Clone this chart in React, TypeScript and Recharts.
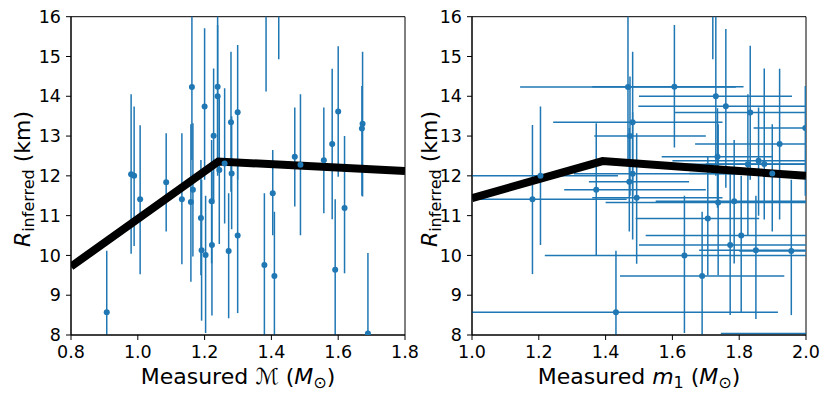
import React from 'react';
import { ComposedChart, Scatter, Line, XAxis, YAxis, ErrorBar, ReferenceArea } from 'recharts';

// ---- Left panel: chirp mass vs inferred radius ----
const chirpMass = [0.907, 0.98, 0.989, 1.007, 1.085, 1.132, 1.159, 1.162, 1.165, 1.189, 1.191, 1.203, 1.2, 1.221, 1.222, 1.227, 1.239, 1.239, 1.244, 1.26, 1.272, 1.279, 1.281, 1.299, 1.299, 1.379, 1.384, 1.404, 1.409, 1.422, 1.47, 1.487, 1.557, 1.582, 1.591, 1.6, 1.619, 1.671, 1.673, 1.689];
const chirpR = [8.57, 12.04, 12.0, 11.41, 11.84, 11.41, 11.34, 14.23, 11.65, 10.94, 10.13, 10.01, 13.74, 11.36, 10.26, 13.01, 14.24, 14.0, 12.15, 12.31, 10.11, 13.35, 12.06, 13.6, 10.5, 9.76, 17.0, 11.56, 9.48, 17.0, 12.48, 12.28, 12.39, 12.8, 9.64, 13.62, 11.19, 13.19, 13.31, 8.04];
const chirpRLow = [6.9, 10.04, 10.24, 9.53, 10.6, 9.78, 9.34, 12.4, 9.97, 9.5, 8.36, 8.05, 11.9, 9.8, 8.49, 11.3, 12.4, 12.0, 10.29, 10.8, 8.42, 11.6, 10.66, 11.9, 8.55, 7.5, 14.12, 10.51, 7.5, 14.93, 11.23, 10.51, 11.06, 10.91, 7.5, 11.98, 9.55, 11.5, 11.48, 6.5];
const chirpRHigh = [10.12, 14.05, 13.74, 13.27, 13.07, 13.07, 13.3, 16.5, 13.32, 12.4, 11.9, 11.5, 15.71, 12.9, 12.1, 14.7, 15.79, 16.5, 14.0, 14.2, 11.56, 15.12, 13.5, 15.29, 12.3, 11.56, 19.0, 12.65, 11.1, 19.0, 13.72, 14.05, 13.72, 14.69, 11.41, 15.26, 13.0, 14.26, 15.12, 10.06];
const chirpFitX = [0.8, 1.241, 1.8];
const chirpFitR = [9.72, 12.36, 12.12];
const chirpTicks = [0.8, 1.0, 1.2, 1.4, 1.6, 1.8];

// ---- Right panel: primary mass vs inferred radius ----
const m1 = [1.181, 1.205, 1.372, 1.467, 1.481, 1.473, 1.481, 1.471, 1.493, 1.431, 1.606, 1.73, 1.76, 1.833, 1.998, 1.921, 1.735, 1.826, 1.858, 1.875, 1.899, 1.737, 1.785, 1.706, 1.806, 1.773, 1.85, 1.956, 1.636, 1.689, 2.05, 1.721];
const m1R = [11.41, 12.0, 11.65, 14.23, 13.35, 13.0, 12.05, 11.85, 11.45, 8.57, 14.24, 14.0, 13.75, 13.59, 13.2, 12.8, 12.48, 12.29, 12.38, 12.3, 12.06, 11.33, 11.36, 10.93, 10.5, 10.26, 10.13, 10.11, 10.0, 9.48, 8.04, 17.0];
const m1Low = [0.9, 0.9, 1.276, 1.144, 1.243, 1.366, 1.305, 1.35, 1.36, 0.9, 1.36, 1.5, 1.498, 1.608, 1.843, 1.668, 1.568, 1.55, 1.6, 1.7, 1.65, 1.4, 1.55, 1.49, 1.52, 1.5, 1.68, 1.8, 1.218, 1.443, 1.745, 1.5];
const m1High = [1.463, 1.437, 1.7, 1.79, 1.75, 1.7, 1.8, 1.65, 1.75, 1.916, 1.813, 1.958, 2.1, 2.1, 2.2, 2.1, 1.898, 2.1, 2.1, 2.1, 2.1, 2.0, 2.0, 1.86, 2.0, 2.0, 2.0, 2.1, 2.1, 1.935, 2.3, 1.9];
const m1RLow = [9.53, 10.26, 9.99, 12.4, 11.5, 11.5, 10.4, 10.6, 9.79, 7.0, 12.71, 12.0, 11.7, 11.9, 11.5, 10.9, 11.2, 10.5, 11.0, 10.9, 10.6, 9.5, 9.8, 9.5, 8.55, 8.5, 8.4, 8.5, 8.05, 7.5, 6.5, 14.93];
const m1RHigh = [13.28, 13.74, 13.32, 16.5, 15.12, 14.5, 13.6, 13.2, 13.07, 10.12, 15.79, 16.5, 15.69, 15.27, 14.26, 14.69, 13.7, 14.05, 13.72, 14.7, 13.3, 13.3, 12.9, 12.5, 12.0, 12.1, 11.5, 11.9, 11.5, 11.1, 10.06, 19.0];
const m1FitX = [1.0, 1.391, 2.0];
const m1FitR = [11.44, 12.37, 12.0];
const m1Ticks = [1.0, 1.2, 1.4, 1.6, 1.8, 2.0];

const rTicks = [8, 9, 10, 11, 12, 13, 14, 15, 16];

const BLUE = '#1f77b4';
const FONT = '"DejaVu Sans", sans-serif';

const chirpData = chirpMass.map((x, i) => ({
  x,
  y: chirpR[i],
  ey: [chirpR[i] - chirpRLow[i], chirpRHigh[i] - chirpR[i]],
}));
const chirpFit = chirpFitX.map((x, i) => ({ x, y: chirpFitR[i] }));

const m1Data = m1.map((x, i) => ({
  x,
  y: m1R[i],
  ex: [x - m1Low[i], m1High[i] - x],
  ey: [m1R[i] - m1RLow[i], m1RHigh[i] - m1R[i]],
}));
const m1Fit = m1FitX.map((x, i) => ({ x, y: m1FitR[i] }));

const Dot = (props: any) => <circle cx={props.cx} cy={props.cy} r={3} fill={BLUE} />;

const tickStyle = { fontSize: 17.5, fill: '#000', fontFamily: FONT };

// plot area inside each 430x401 chart: x 71..405, y 16.7..335
const PLOT = { x: 71, y: 16.7, w: 334, h: 318.3 };

function Panel({ data, fit, domain, ticks, withX }: any) {
  return (
    <ComposedChart width={430} height={401} margin={{ top: 16.7, right: 25, bottom: 0, left: 0 }}>
      <XAxis
        type="number"
        dataKey="x"
        domain={domain}
        ticks={ticks}
        allowDataOverflow
        height={66}
        tickSize={5}
        tickMargin={6}
        tick={tickStyle}
        tickFormatter={(v: number) => v.toFixed(1)}
        stroke="#000"
        interval={0}
      />
      <YAxis
        type="number"
        dataKey="y"
        domain={[8, 16]}
        ticks={rTicks}
        allowDataOverflow
        width={71}
        tickSize={5}
        tickMargin={5}
        tick={tickStyle}
        stroke="#000"
        interval={0}
      />
      <Scatter data={data} dataKey="y" shape={Dot} isAnimationActive={false}>
        {withX && <ErrorBar dataKey="ex" direction="x" width={0} stroke={BLUE} strokeWidth={1.5} />}
        <ErrorBar dataKey="ey" direction="y" width={0} stroke={BLUE} strokeWidth={1.5} />
      </Scatter>
      <Line
        data={fit}
        dataKey="y"
        type="linear"
        stroke="#000"
        strokeWidth={8}
        dot={false}
        activeDot={false}
        isAnimationActive={false}
      />
      <ReferenceArea x1={domain[0]} x2={domain[1]} y1={8} y2={16} fill="none" stroke="#000" strokeWidth={1} ifOverflow="visible" />
    </ComposedChart>
  );
}

const labelBase: React.CSSProperties = {
  position: 'absolute',
  fontFamily: FONT,
  fontSize: 22,
  whiteSpace: 'nowrap',
  color: '#000',
  lineHeight: 'normal',
};

const subStyle: React.CSSProperties = { fontSize: 16, verticalAlign: '-0.25em' };

function YLabel({ cx }: { cx: number }) {
  return (
    <div style={{ ...labelBase, left: cx, top: 179, transform: 'translate(-50%, -50%) rotate(-90deg)' }}>
      <i>R</i>
      <sub style={subStyle}>inferred</sub> (km)
    </div>
  );
}

const clipCss = `
.panel .recharts-scatter, .panel .recharts-errorBars, .panel .recharts-errorBar, .panel .recharts-line {
  clip-path: url(#plotClip);
}
`;

export default function App() {
  return (
    <div style={{ position: 'absolute', left: 0, top: 0, width: 831, height: 401, background: '#fff' }}>
      <style>{clipCss}</style>
      <svg width={0} height={0} style={{ position: 'absolute' }}>
        <defs>
          <clipPath id="plotClip" clipPathUnits="userSpaceOnUse">
            <rect x={PLOT.x} y={PLOT.y} width={PLOT.w} height={PLOT.h} />
          </clipPath>
        </defs>
      </svg>
      <div className="panel" style={{ position: 'absolute', left: 0, top: 0 }}>
        <Panel data={chirpData} fit={chirpFit} domain={[0.8, 1.8]} ticks={chirpTicks} withX={false} />
      </div>
      <div className="panel" style={{ position: 'absolute', left: 401, top: 0 }}>
        <Panel data={m1Data} fit={m1Fit} domain={[1.0, 2.0]} ticks={m1Ticks} withX={true} />
      </div>
      <div style={{ ...labelBase, left: 238, top: 364, transform: 'translateX(-50%)' }}>
        Measured <i>ℳ</i> (<i>M</i>
        <sub style={subStyle}>⊙</sub>)
      </div>
      <div style={{ ...labelBase, left: 639, top: 364, transform: 'translateX(-50%)' }}>
        Measured <i>m</i>
        <sub style={subStyle}>1</sub> (<i>M</i>
        <sub style={subStyle}>⊙</sub>)
      </div>
      <YLabel cx={24} />
      <YLabel cx={431} />
    </div>
  );
}
